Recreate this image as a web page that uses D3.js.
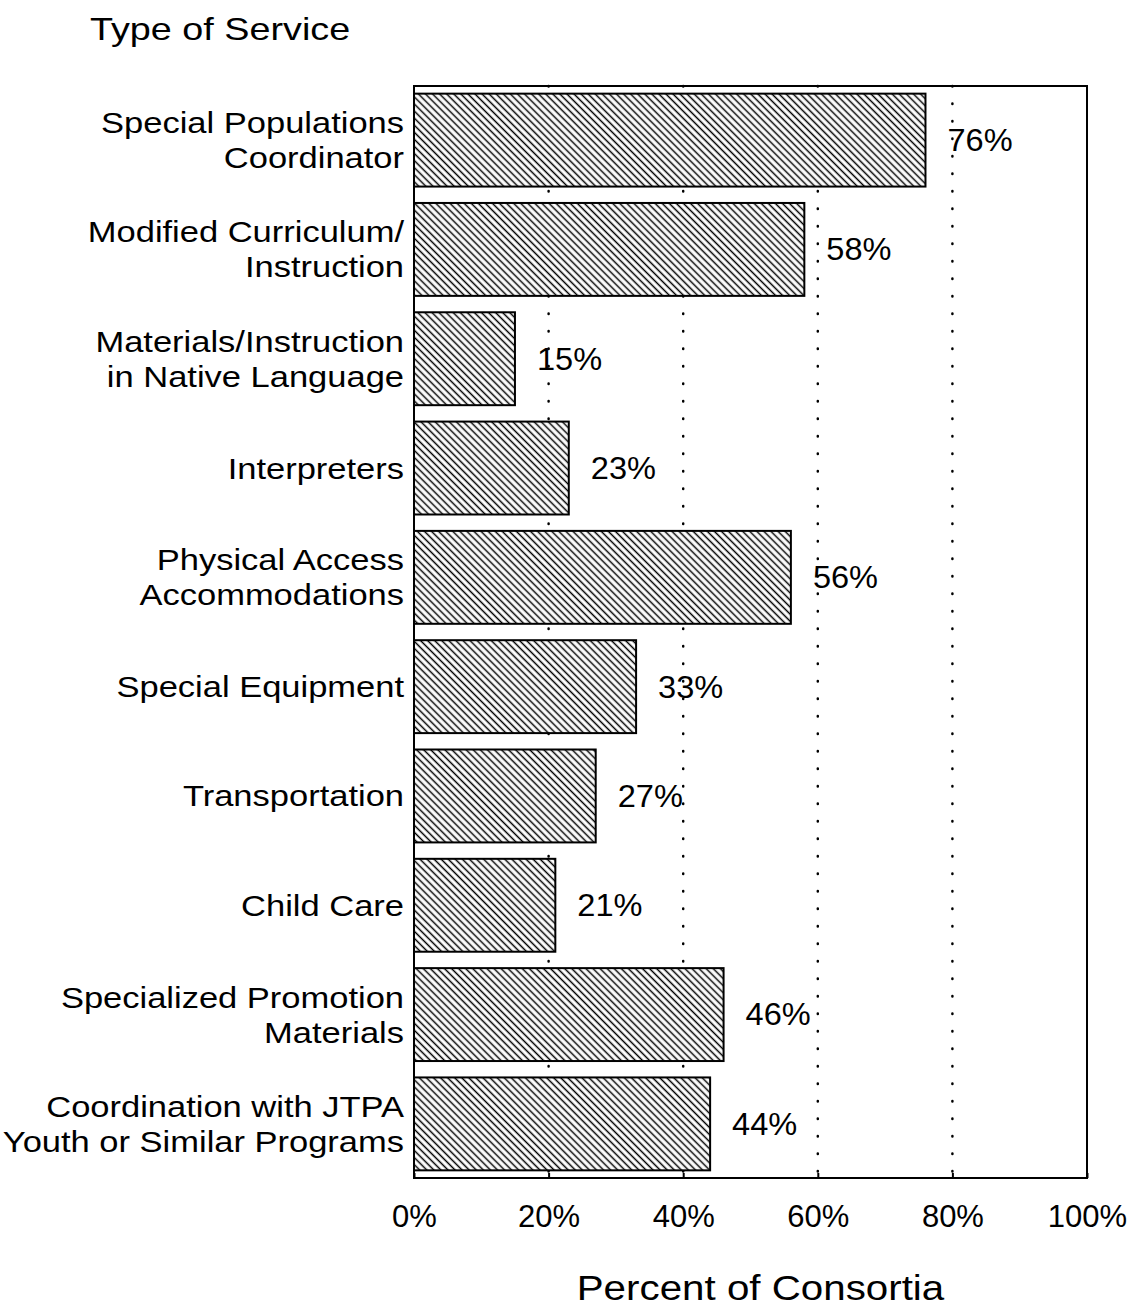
<!DOCTYPE html>
<html lang="en">
<head>
    <meta charset="UTF-8">
    <script src="https://d3js.org/d3.v7.min.js"></script>
    <title>Type of Service</title>
    <style>
        body { margin: 0; background: #fff; }
        text { font-family: "Liberation Sans", Arial, sans-serif; fill: #000; }
    </style>
</head>
<body>
    <script>
        // Data
        var services = [
            ["Special Populations", "Coordinator"],
            ["Modified Curriculum/", "Instruction"],
            ["Materials/Instruction", "in Native Language"],
            ["Interpreters"],
            ["Physical Access", "Accommodations"],
            ["Special Equipment"],
            ["Transportation"],
            ["Child Care"],
            ["Specialized Promotion", "Materials"],
            ["Coordination with JTPA", "Youth or Similar Programs"]
        ];
        var percents = [76, 58, 15, 23, 56, 33, 27, 21, 46, 44];
        var tickValues = [0, 20, 40, 60, 80, 100];

        var margin = { top: 86, right: 58, bottom: 130, left: 414 },
            width = 1145 - margin.left - margin.right,
            height = 1308 - margin.top - margin.bottom;

        // the scanned lettering is wider than Arial, so stretch text a bit
        var stretch = 1.15;

        var svg = d3.select("body").append("svg")
            .attr("width", 1145)
            .attr("height", 1308);

        // hatch pattern for bars ("\\\" direction)
        var pat = svg.append("defs").append("pattern")
            .attr("id", "hatch")
            .attr("patternUnits", "userSpaceOnUse")
            .attr("width", 5)
            .attr("height", 5)
            .attr("patternTransform", "rotate(45)");
        pat.append("rect").attr("width", 5).attr("height", 5).attr("fill", "#fff");
        pat.append("line")
            .attr("x1", 0).attr("y1", 2.5).attr("x2", 5).attr("y2", 2.5)
            .attr("stroke", "#000").attr("stroke-width", 1.5);

        var g = svg.append("g")
            .attr("transform", "translate(" + margin.left + "," + margin.top + ")");

        var x = d3.scaleLinear().domain([0, 100]).range([0, width]);
        var y = d3.scaleBand()
            .domain(d3.range(services.length))
            .range([0, height])
            .paddingInner(0.15)
            .paddingOuter(0.07);

        // dotted grid lines
        g.selectAll(".grid")
            .data(tickValues.slice(1, -1))
            .enter().append("line")
            .attr("x1", function (d) { return x(d); })
            .attr("x2", function (d) { return x(d); })
            .attr("y1", 0)
            .attr("y2", height)
            .attr("stroke", "#000")
            .attr("stroke-width", 2.5)
            .attr("stroke-linecap", "round")
            .attr("stroke-dasharray", "0.5,17");

        // bars
        g.selectAll(".bar")
            .data(percents)
            .enter().append("rect")
            .attr("x", 0)
            .attr("y", function (d, i) { return y(i); })
            .attr("width", function (d) { return x(d); })
            .attr("height", y.bandwidth())
            .attr("fill", "url(#hatch)")
            .attr("stroke", "#000")
            .attr("stroke-width", 2);

        // value labels
        g.selectAll(".val")
            .data(percents)
            .enter().append("text")
            .attr("transform", function (d, i) {
                return "translate(" + (x(d) + 22) + "," + (y(i) + y.bandwidth() / 2) + ") scale(1.05,1)";
            })
            .attr("dy", "0.35em")
            .style("font-size", "31px")
            .text(function (d) { return d + "%"; });

        // frame
        g.append("rect")
            .attr("width", width)
            .attr("height", height)
            .attr("fill", "none")
            .attr("stroke", "#000")
            .attr("stroke-width", 2);

        // x axis
        var xAxis = g.append("g")
            .attr("transform", "translate(0," + height + ")")
            .call(d3.axisBottom(x)
                .tickValues(tickValues)
                .tickSize(5)
                .tickPadding(22)
                .tickFormat(function (d) { return d + "%"; }));
        xAxis.select(".domain").remove();
        xAxis.selectAll("text")
            .style("font-size", "31px")
            .attr("fill", "#000");
        xAxis.selectAll("line").attr("y1", -5).attr("y2", 0).attr("stroke-width", 2);

        // category labels
        var labels = g.selectAll(".cat")
            .data(services)
            .enter().append("text")
            .attr("text-anchor", "end")
            .style("font-size", "30px")
            .attr("transform", function (d, i) {
                return "translate(-10," + (y(i) + y.bandwidth() / 2) + ") scale(" + stretch + ",1)";
            });
        labels.selectAll("tspan")
            .data(function (d) { return d; })
            .enter().append("tspan")
            .attr("x", 0)
            .attr("y", function (d, j, nodes) {
                var n = nodes.length;
                return (j - (n - 1) / 2) * 35;
            })
            .attr("dy", "0.35em")
            .text(function (d) { return d; });

        // axis titles
        svg.append("text")
            .attr("transform", "translate(90,40) scale(1.18,1)")
            .style("font-size", "32px")
            .text("Type of Service");

        svg.append("text")
            .attr("transform", "translate(" + (margin.left + width / 2 + 10) + ",1300) scale(1.12,1)")
            .attr("text-anchor", "middle")
            .style("font-size", "36px")
            .text("Percent of Consortia");
    </script>
</body>
</html>
